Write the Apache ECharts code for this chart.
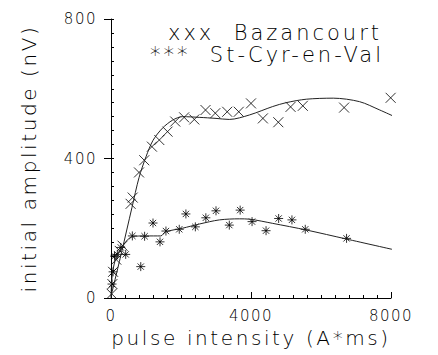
<!DOCTYPE html>
<html><head><meta charset="utf-8">
<script src="https://cdn.jsdelivr.net/npm/echarts@6/dist/echarts.min.js"></script>
<style>
html,body{margin:0;padding:0;background:#fff;}
#c{width:438px;height:355px;}
#c svg text{letter-spacing:1.5px;}
#c svg text[style*="20px"]{letter-spacing:2.6px;}
#c svg text[style*="21px"]{letter-spacing:3px;}
</style></head><body><div id="c"></div>
<script>
// axis ticks
const xTickLabels = [0, 4000, 8000];
const yTickLabels = [0, 400, 800];
const seriesNames = ['Bazancourt', 'St-Cyr-en-Val'];
const legendMarks = ['xxx', '***'];
// measured points [pulse intensity (A*ms), initial amplitude (nV)]
const bazPoints = [[20,12],[40,40],[60,75],[150,110],[250,135],[330,150],[560,270],[620,288],[800,360],[950,395],[1170,434],[1380,453],[1615,477],[1835,506],[2090,518],[2380,512],[2700,539],[2980,530],[3320,534],[3650,534],[4000,558],[4340,515],[4780,504],[5130,548],[5480,551],[6660,546],[7990,574]];
const stcPoints = [[30,40],[60,75],[100,120],[180,125],[280,145],[420,125],[610,178],[850,90],[960,177],[1200,215],[1400,161],[1570,192],[1950,197],[2140,241],[2410,204],[2710,230],[3000,250],[3380,209],[3690,252],[4030,219],[4430,193],[4790,228],[5170,224],[5550,197],[6730,171]];
// fitted curves
const bazFit = [[0,5],[300,130],[600,260],[800,345],[1000,405],[1200,452],[1470,487],[1760,510],[2040,520],[2520,518],[3000,515],[3380,512],[3960,525],[4620,549],[5000,560],[5580,570],[6350,573],[7100,563],[7680,539],[8100,520]];
const stcFit = [[0,0],[40,70],[180,123],[610,176],[1000,178],[1420,178],[1570,190],[2040,200],[2520,212],[3100,224],[3670,227],[3960,226],[4620,214],[5580,195],[6730,169],[8100,138]];

const FONT = 'DejaVu Sans';
const crossPath = 'path://M0,0L10,10M10,0L0,10';
const starPath = 'path://M5,0L5,10M0,5L10,5M1.5,1.5L8.5,8.5M8.5,1.5L1.5,8.5';
const chart = echarts.init(document.getElementById('c'), null, {renderer: 'svg'});
const txt = {color: '#000', fontFamily: FONT, fontWeight: 200};
const plain = v => String(v);
chart.setOption({
  animation: false,
  backgroundColor: '#fff',
  grid: {left: 111, right: 47, top: 19, bottom: 57},
  title: [
    {text: legendMarks[0] + '  ' + seriesNames[0], left: 168, top: 22, padding: 0,
     textStyle: Object.assign({fontSize: 21}, txt)},
    {text: legendMarks[1] + '  ' + seriesNames[1], left: 150, top: 44, padding: 0,
     textStyle: Object.assign({fontSize: 21}, txt)}
  ],
  xAxis: {
    type: 'value', min: xTickLabels[0], max: xTickLabels[2], interval: xTickLabels[1] - xTickLabels[0],
    name: 'pulse intensity (A*ms)', nameLocation: 'middle', nameGap: 18,
    nameTextStyle: Object.assign({fontSize: 20}, txt),
    axisLine: {show: true, lineStyle: {color: '#000', width: 1}},
    axisTick: {show: true, inside: true, length: 6, lineStyle: {color: '#000'}},
    minorTick: {show: true, splitNumber: 10, length: 3, lineStyle: {color: '#000'}},
    axisLabel: Object.assign({fontSize: 15, margin: 10, formatter: plain}, txt),
    splitLine: {show: false}
  },
  yAxis: [{
    type: 'value', min: yTickLabels[0], max: yTickLabels[2], interval: yTickLabels[1] - yTickLabels[0],
    position: 'left',
    name: 'initial amplitude (nV)', nameLocation: 'middle', nameGap: 72, nameRotate: 90,
    nameTextStyle: Object.assign({fontSize: 20}, txt),
    axisLine: {show: true, lineStyle: {color: '#000', width: 1}},
    axisTick: {show: true, inside: false, length: 7, lineStyle: {color: '#000'}},
    axisLabel: Object.assign({fontSize: 15, margin: 14, formatter: plain}, txt),
    splitLine: {show: false}
  }, {
    type: 'value', min: yTickLabels[0], max: yTickLabels[2], interval: (yTickLabels[1] - yTickLabels[0]) / 10,
    position: 'left',
    axisLine: {show: false},
    axisTick: {show: true, inside: true, length: 3, lineStyle: {color: '#000'}},
    axisLabel: {show: false},
    splitLine: {show: false}
  }],
  series: [
    {name: seriesNames[0], type: 'scatter', data: bazPoints, symbol: crossPath, symbolSize: 10,
     itemStyle: {color: '#000', borderColor: '#000', borderWidth: 1}},
    {name: seriesNames[1], type: 'scatter', data: stcPoints, symbol: starPath, symbolSize: 9,
     itemStyle: {color: '#000', borderColor: '#000', borderWidth: 1}},
    {name: seriesNames[0] + ' fit', type: 'line', data: bazFit, showSymbol: false, symbol: 'none', smooth: 0.3,
     lineStyle: {color: '#222', width: 1}},
    {name: seriesNames[1] + ' fit', type: 'line', data: stcFit, showSymbol: false, symbol: 'none', smooth: 0.3,
     lineStyle: {color: '#222', width: 1}}
  ]
});
</script></body></html>
